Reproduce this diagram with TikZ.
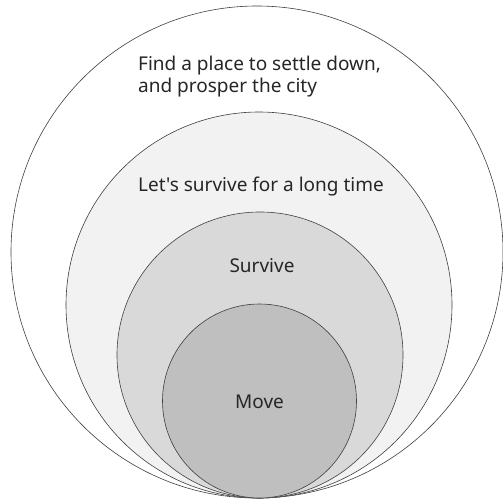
\documentclass[tikz,border=0pt]{standalone}
\usepackage{fontspec}
\newfontfamily\lblfont{Noto Sans}
\begin{document}
\begin{tikzpicture}[x=1pt,y=-1pt,
  ring/.style={circle,draw=black!75,line width=0.6pt,inner sep=0pt},
  lbl/.style={font=\lblfont\fontsize{19}{21.7}\selectfont,text=black!85,inner sep=0pt}]
\useasboundingbox (0,0) rectangle (503,500);
\node[ring,fill=white,minimum size=492pt] (c1) at (257,252) {};
\node[ring,fill=black!5,minimum size=386pt] (c2) at (259,305) {};
\node[ring,fill=black!15,minimum size=286pt] (c3) at (260,355) {};
\node[ring,fill=black!25,minimum size=194pt] (c4) at (259.5,401) {};
\node[lbl,anchor=base west] (t1a) at (138,71) {Find a place to settle down,};
\node[lbl,anchor=base west] (t1b) at (138,92.7) {and prosper the city};
\node[lbl,anchor=base west] (t2) at (138,191) {Let's survive for a long time};
\node[lbl,anchor=base] (t3) at (262,272.3) {Survive};
\node[lbl,anchor=base] (t4) at (259.5,408.7) {Move};
\end{tikzpicture}
\end{document}
